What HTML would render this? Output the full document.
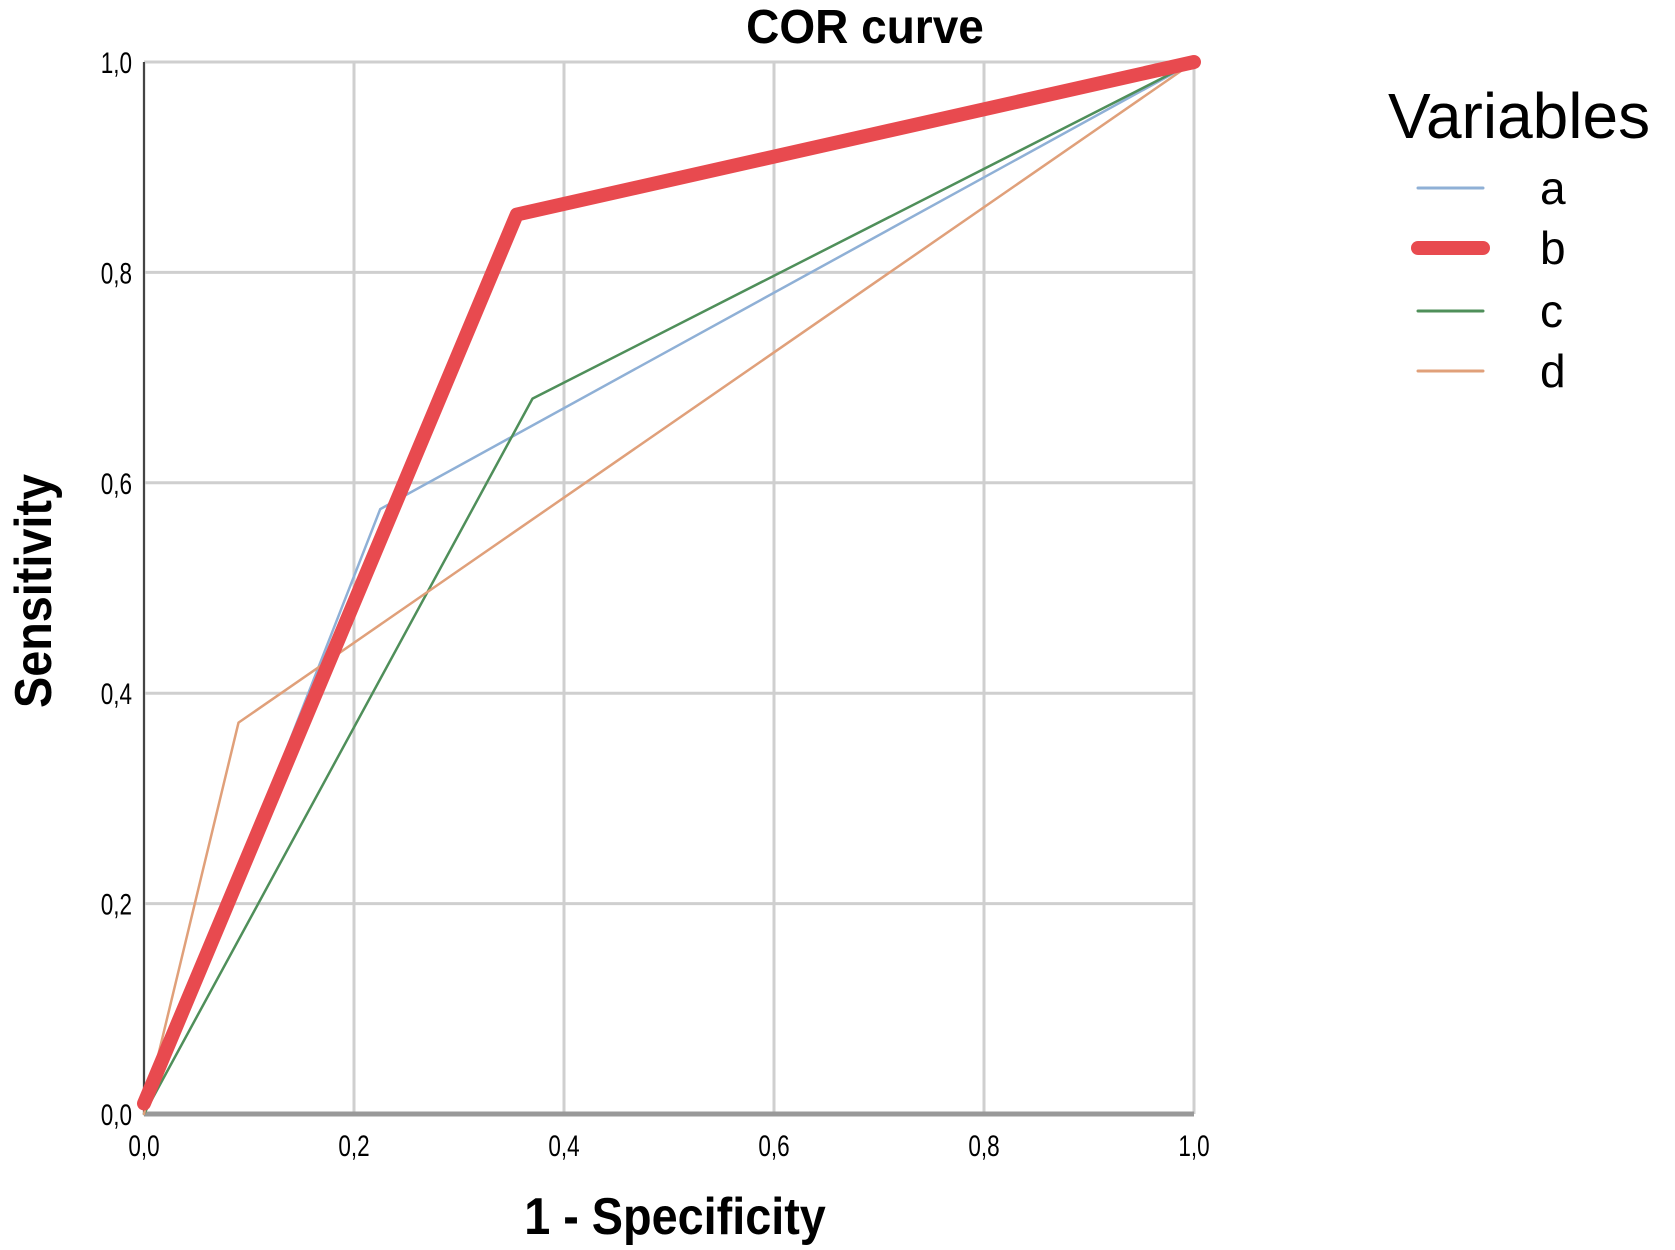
<!DOCTYPE html>
<html><head><meta charset="utf-8"><style>
body{margin:0;background:#fff}
svg{display:block}
text{font-family:"Liberation Sans",sans-serif}
</style></head><body>
<svg id="chart" width="1675" height="1250" viewBox="0 0 1675 1250">
<text x="0" y="0" font-size="46" font-weight="bold" text-anchor="middle" transform="translate(865 43) scale(1 1.05)">COR curve</text>
<g id="grid"></g>
<g id="ticks"></g>
<g id="series"></g>
<text x="0" y="0" font-size="52" font-weight="bold" text-anchor="middle" transform="translate(675 1234) scale(0.9 1)">1 - Specificity</text>
<text x="0" y="0" font-size="52" font-weight="bold" text-anchor="middle" transform="translate(51 591) rotate(-90) scale(0.9 1)">Sensitivity</text>
<g>
<text x="1388" y="138" font-size="64">Variables</text>
<g id="legend-items"></g>
</g>
</svg>
<script>
const xTicks=[0,0.2,0.4,0.6,0.8,1.0];
const yTicks=[0,0.2,0.4,0.6,0.8,1.0];
const tickLabels=["0,0","0,2","0,4","0,6","0,8","1,0"];
const seriesNames=["a","b","c","d"];
const aX=[0,0.225,1], aY=[0,0.575,1];
const bX=[0,0.355,1], bY=[0.01,0.855,1];
const cX=[0,0.37,1], cY=[0,0.68,1];
const dX=[0,0.09,1], dY=[0,0.372,1];
const L=144,R=1194,T=62,B=1114;
const sx=v=>L+v*(R-L), sy=v=>B-v*(B-T);
const NS="http://www.w3.org/2000/svg";
function mk(tag,attrs,parent){const e=document.createElementNS(NS,tag);for(const k in attrs)e.setAttribute(k,attrs[k]);parent.appendChild(e);return e;}
const grid=document.getElementById('grid'),ticks=document.getElementById('ticks'),ser=document.getElementById('series');
xTicks.forEach((v,i)=>{
 const l=mk('line',{x1:sx(v),x2:sx(v),y1:T,y2:B,stroke:'#cfcfcf','stroke-width':3},grid);
 
 
 const t=mk('text',{x:0,y:0,'font-size':30,'text-anchor':'middle',transform:'translate('+sx(v)+' 1156) scale(0.75 1)'},ticks);
 t.textContent=tickLabels[i];
 
 
});
yTicks.forEach((v,i)=>{
 const l=mk('line',{x1:L,x2:R,y1:sy(v),y2:sy(v),stroke:'#cfcfcf','stroke-width':3},grid);
 
 
 const t=mk('text',{x:0,y:0,'font-size':30,'text-anchor':'end',transform:'translate(132 '+(sy(v)+11)+') scale(0.75 1)'},ticks);
 t.textContent=tickLabels[i];
 
 
});
const ax1=mk('line',{x1:L,x2:L,y1:T,y2:B,stroke:'#444','stroke-width':2},grid);


const ax2=mk('line',{x1:L,x2:R,y1:B,y2:B,stroke:'#999','stroke-width':5},grid);


const styles=[{c:'#8fb0d6',w:2.5},{c:'#e84a4f',w:14},{c:'#4f8f5a',w:2.5},{c:'#e0a07a',w:2.5}];
const data=[[aX,aY],[bX,bY],[cX,cY],[dX,dY]];
const order=[0,2,3,1];
order.forEach(i=>{
 const [xs,ys]=data[i];
 const p=mk('polyline',{points:xs.map((x,j)=>sx(x)+','+sy(ys[j])).join(' '),fill:'none',stroke:styles[i].c,'stroke-width':styles[i].w,'stroke-linejoin':'round','stroke-linecap':'round'},ser);
 
 
});
const li=document.getElementById('legend-items');
const ly=[188,248,311,371];
seriesNames.forEach((n,i)=>{
 const l=mk('line',{x1:1418,x2:1483,y1:ly[i],y2:ly[i],stroke:styles[i].c,'stroke-width':i==1?14:3,'stroke-linecap':'round'},li);
 
 
 const t=mk('text',{x:1540,y:ly[i]+16,'font-size':46},li);
 t.textContent=n;
 
 
});
</script>
</body></html>
